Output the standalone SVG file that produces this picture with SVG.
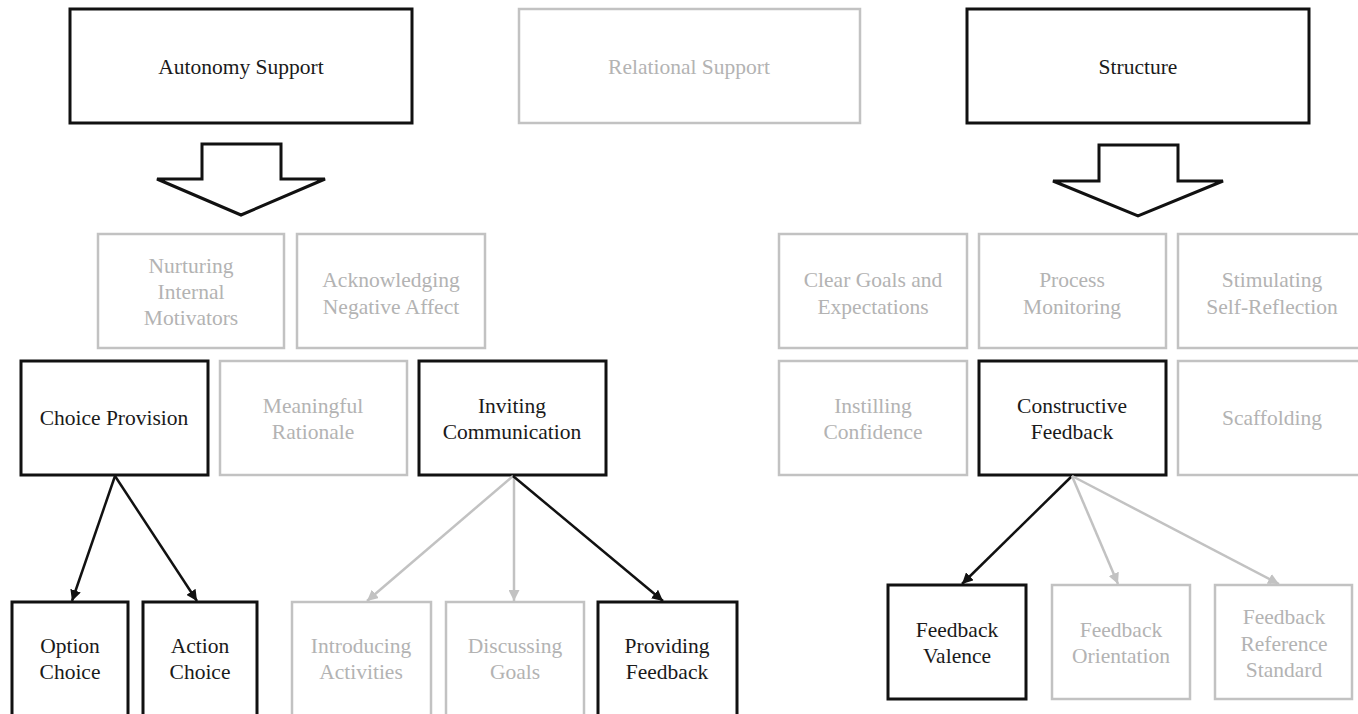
<svg xmlns="http://www.w3.org/2000/svg" width="1358" height="714" viewBox="0 0 1358 714" font-family="'Liberation Serif', 'Times New Roman', serif">
<style>
.bk{fill:#fff;stroke:#111;stroke-width:3}
.gr{fill:#fff;stroke:#c2c2c2;stroke-width:2.5}
text{font-size:21.5px;text-anchor:middle}
.tb{fill:#1a1a1a}
.tg{fill:#b3b3b3}
.cb{stroke:#111;stroke-width:2.5;fill:none}
.cg{stroke:#c2c2c2;stroke-width:2.5;fill:none}
.blk{fill:#fff;stroke:#111;stroke-width:3;stroke-linejoin:miter}
</style>
<defs>
<marker id="ab" viewBox="0 0 10 10" refX="10" refY="5" markerWidth="11" markerHeight="11" markerUnits="userSpaceOnUse" orient="auto"><path d="M0,0 L10,5 L0,10 z" fill="#111"/></marker>
<marker id="ag" viewBox="0 0 10 10" refX="10" refY="5" markerWidth="11" markerHeight="11" markerUnits="userSpaceOnUse" orient="auto"><path d="M0,0 L10,5 L0,10 z" fill="#c2c2c2"/></marker>
</defs>
<rect width="1358" height="714" fill="#fff"/>

<g id="autonomy-support"><rect class="bk" x="70" y="9" width="342" height="114"/><text class="tb" x="241" y="74">Autonomy Support</text></g>
<g id="relational-support"><rect class="gr" x="519" y="9" width="341" height="114"/><text class="tg" x="689" y="74">Relational Support</text></g>
<g id="structure"><rect class="bk" x="967" y="9" width="342" height="114"/><text class="tb" x="1138" y="74">Structure</text></g>

<g id="arrow-left"><path class="blk" d="M202,144 L281,144 L281,179 L325,179 L241,215 L157,179 L202,179 Z"/></g>
<g id="arrow-right"><path class="blk" d="M1099,145 L1178,145 L1178,181 L1223,181 L1138,216 L1053,181 L1099,181 Z"/></g>

<g id="nurturing"><rect class="gr" x="98" y="234" width="186" height="114"/><text class="tg" x="191" y="273">Nurturing</text><text class="tg" x="191" y="299">Internal</text><text class="tg" x="191" y="325">Motivators</text></g>
<g id="acknowledging"><rect class="gr" x="297" y="234" width="188" height="114"/><text class="tg" x="391" y="287">Acknowledging</text><text class="tg" x="391" y="314">Negative Affect</text></g>
<g id="choice-provision"><rect class="bk" x="21" y="361" width="187" height="114"/><text class="tb" x="114" y="425">Choice Provision</text></g>
<g id="meaningful-rationale"><rect class="gr" x="220" y="361" width="187" height="114"/><text class="tg" x="313" y="413">Meaningful</text><text class="tg" x="313" y="439">Rationale</text></g>
<g id="inviting-communication"><rect class="bk" x="419" y="361" width="187" height="114"/><text class="tb" x="512" y="413">Inviting</text><text class="tb" x="512" y="439">Communication</text></g>

<g id="option-choice"><rect class="bk" x="12" y="602" width="116" height="120"/><text class="tb" x="70" y="653">Option</text><text class="tb" x="70" y="679">Choice</text></g>
<g id="action-choice"><rect class="bk" x="143" y="602" width="114" height="120"/><text class="tb" x="200" y="653">Action</text><text class="tb" x="200" y="679">Choice</text></g>
<g id="introducing-activities"><rect class="gr" x="292" y="602" width="139" height="120"/><text class="tg" x="361" y="653">Introducing</text><text class="tg" x="361" y="679">Activities</text></g>
<g id="discussing-goals"><rect class="gr" x="446" y="602" width="138" height="120"/><text class="tg" x="515" y="653">Discussing</text><text class="tg" x="515" y="679">Goals</text></g>
<g id="providing-feedback"><rect class="bk" x="598" y="602" width="139" height="120"/><text class="tb" x="667" y="653">Providing</text><text class="tb" x="667" y="679">Feedback</text></g>

<g id="clear-goals"><rect class="gr" x="779" y="234" width="188" height="114"/><text class="tg" x="873" y="287">Clear Goals and</text><text class="tg" x="873" y="314">Expectations</text></g>
<g id="process-monitoring"><rect class="gr" x="979" y="234" width="187" height="114"/><text class="tg" x="1072" y="287">Process</text><text class="tg" x="1072" y="314">Monitoring</text></g>
<g id="stimulating"><rect class="gr" x="1178" y="234" width="190" height="114"/><text class="tg" x="1272" y="287">Stimulating</text><text class="tg" x="1272" y="314">Self-Reflection</text></g>
<g id="instilling-confidence"><rect class="gr" x="779" y="361" width="188" height="114"/><text class="tg" x="873" y="413">Instilling</text><text class="tg" x="873" y="439">Confidence</text></g>
<g id="constructive-feedback"><rect class="bk" x="979" y="361" width="187" height="114"/><text class="tb" x="1072" y="413">Constructive</text><text class="tb" x="1072" y="439">Feedback</text></g>
<g id="scaffolding"><rect class="gr" x="1178" y="361" width="190" height="114"/><text class="tg" x="1272" y="425">Scaffolding</text></g>

<g id="feedback-valence"><rect class="bk" x="888" y="585" width="138" height="114"/><text class="tb" x="957" y="637">Feedback</text><text class="tb" x="957" y="663">Valence</text></g>
<g id="feedback-orientation"><rect class="gr" x="1052" y="585" width="138" height="114"/><text class="tg" x="1121" y="637">Feedback</text><text class="tg" x="1121" y="663">Orientation</text></g>
<g id="feedback-reference-standard"><rect class="gr" x="1215" y="585" width="137" height="114"/><text class="tg" x="1284" y="624">Feedback</text><text class="tg" x="1284" y="651">Reference</text><text class="tg" x="1284" y="677">Standard</text></g>

<g id="connectors">
<line class="cb" x1="115" y1="476" x2="72" y2="601" marker-end="url(#ab)"/>
<line class="cb" x1="115" y1="476" x2="197" y2="601" marker-end="url(#ab)"/>
<line class="cg" x1="513" y1="476" x2="367" y2="601" marker-end="url(#ag)"/>
<line class="cg" x1="514" y1="476" x2="514" y2="601" marker-end="url(#ag)"/>
<line class="cb" x1="513" y1="476" x2="663" y2="601" marker-end="url(#ab)"/>
<line class="cb" x1="1072" y1="476" x2="962" y2="584" marker-end="url(#ab)"/>
<line class="cg" x1="1072" y1="476" x2="1118" y2="584" marker-end="url(#ag)"/>
<line class="cg" x1="1072" y1="476" x2="1279" y2="584" marker-end="url(#ag)"/>
</g>
</svg>
